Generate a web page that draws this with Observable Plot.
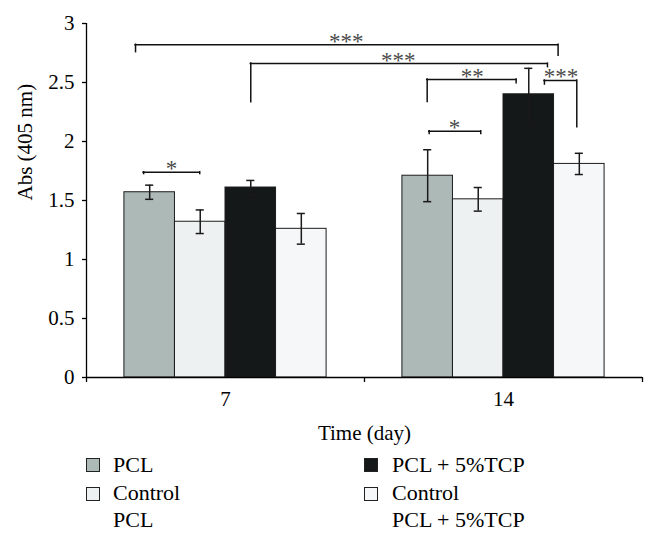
<!DOCTYPE html>
<html>
<head>
<meta charset="utf-8">
<script src="https://cdn.jsdelivr.net/npm/d3@7"></script>
<script src="https://cdn.jsdelivr.net/npm/@observablehq/plot@0.6"></script>
<style>
  html, body { margin: 0; padding: 0; background: #fff; }
  #chart { position: relative; width: 657px; height: 539px; font-family: "Liberation Serif", "Times New Roman", serif; color: #000; }
  #chart svg { position: absolute; left: 0; top: 0; }
  #legend { position: absolute; left: 0; top: 445px; width: 657px; height: 94px; }
  .sw { position: absolute; width: 12px; height: 12px; border: 1px solid #222; box-sizing: content-box; }
  .lab { position: absolute; font-size: 22px; line-height: 27px; white-space: pre-line; }
</style>
</head>
<body>
<div id="chart"><div id="legend"></div></div>
<script>
// ---- data ----
const days = ["7", "14"];
const series = ["PCL", "Control PCL", "PCL + 5%TCP", "Control PCL + 5%TCP"];
const legendLabels = ["PCL", "Control\nPCL", "PCL + 5%TCP", "Control\nPCL + 5%TCP"];
const colors = ["#adb9b6", "#eef1f2", "#151819", "#f5f7f8"];
const meansDay7 = [1.57, 1.32, 1.61, 1.26];
const errorsDay7 = [0.06, 0.10, 0.06, 0.13];
const meansDay14 = [1.71, 1.51, 2.40, 1.81];
const errorsDay14 = [0.22, 0.10, 0.22, 0.09];
const yTicks = [0, 0.5, 1, 1.5, 2, 2.5, 3];
const xTitle = "Time (day)";
const yTitle = "Abs (405 nm)";
// significance brackets (x in bar-slot units along the x axis, y in Abs units)
const bracketLabels = ["*", "***", "***", "**", "*", "***"];
const bracketX1 = [1.13, 0.97, 3.25, 6.74, 6.78, 9.06];
const bracketX2 = [2.24, 9.33, 9.12, 8.50, 7.80, 9.70];
const bracketY = [1.74, 2.82, 2.66, 2.525, 2.087, 2.517];
const bracketLeftEnd = [1.724, 2.757, 2.333, 2.335, 2.064, 2.483];
const bracketRightEnd = [1.724, 2.726, 2.63, 2.494, 2.064, 2.121];
const bracketLabelX = [1.68, 5.14, 6.17, 7.63, 7.28, 9.39];

// ---- layout helpers (bar slots) ----
const groupPad = 0.75;               // slots of padding each side of a group
const groupSlots = series.length + 2 * groupPad;
const capHalf = 0.08;
const means = [meansDay7, meansDay14];
const errors = [errorsDay7, errorsDay14];

const bars = [];
days.forEach((day, g) => {
  series.forEach((s, i) => {
    const x1 = g * groupSlots + groupPad + i;
    bars.push({day, series: s, x1, x2: x1 + 1, xc: x1 + 0.5,
      mean: means[g][i], lo: means[g][i] - errors[g][i], hi: means[g][i] + errors[g][i]});
  });
});
const brackets = bracketLabels.map((label, k) => ({
  label, x1: bracketX1[k], x2: bracketX2[k], y: bracketY[k],
  yl: bracketLeftEnd[k], yr: bracketRightEnd[k], lx: bracketLabelX[k]
}));
const boundaryTicks = d3.range(days.length + 1).map(g => g * groupSlots);
const centerTicks = days.map((d, g) => g * groupSlots + groupSlots / 2);

const svg = Plot.plot({
  width: 657,
  height: 445,
  marginLeft: 86,
  marginRight: 15,
  marginTop: 23,
  marginBottom: 68,
  style: {fontFamily: "Liberation Serif, Times New Roman, serif", fontSize: "21px", color: "#000", background: "#fff"},
  x: {domain: [0, days.length * groupSlots], label: null},
  y: {domain: [0, 3], label: null},
  color: {domain: series, range: colors},
  marks: [
    Plot.rectY(bars, {x1: "x1", x2: "x2", y1: 0, y2: "mean", fill: "series", stroke: "#1c1c1c", strokeWidth: 1}),
    Plot.ruleX(bars, {x: "xc", y1: "lo", y2: "hi", stroke: "#1a1a1a", strokeWidth: 1.5}),
    Plot.ruleY(bars, {y: "hi", x1: d => d.xc - capHalf, x2: d => d.xc + capHalf, stroke: "#1a1a1a", strokeWidth: 1.5}),
    Plot.ruleY(bars, {y: "lo", x1: d => d.xc - capHalf, x2: d => d.xc + capHalf, stroke: "#1a1a1a", strokeWidth: 1.5}),
    Plot.ruleY([0], {stroke: "#000", strokeWidth: 1.3}),
    Plot.ruleX([0], {stroke: "#000", strokeWidth: 1.3}),
    Plot.axisY({ticks: yTicks, tickSize: 4, tickPadding: 8, fontSize: 21, label: null, strokeWidth: 1.3,
      tickFormat: d => String(d)}),
    Plot.axisX({ticks: boundaryTicks, tickSize: 5, tickFormat: () => "", label: null, strokeWidth: 1.3}),
    Plot.axisX({ticks: centerTicks, tickSize: 0, tickPadding: 14, fontSize: 21, label: null,
      tickFormat: v => days[Math.round((v - groupSlots / 2) / groupSlots)]}),
    Plot.ruleY(brackets, {y: "y", x1: "x1", x2: "x2", stroke: "#111", strokeWidth: 1.5, strokeLinecap: "square"}),
    Plot.ruleX(brackets, {x: "x1", y1: "y", y2: "yl", stroke: "#111", strokeWidth: 1.5, strokeLinecap: "square"}),
    Plot.ruleX(brackets, {x: "x2", y1: "y", y2: "yr", stroke: "#111", strokeWidth: 1.5, strokeLinecap: "square"}),
    Plot.text(brackets, {x: "lx", y: "y", text: "label", lineAnchor: "bottom", dy: 4, fontSize: 23, fill: "#4a4a4a"}),
    Plot.text([xTitle], {text: d => d, frameAnchor: "bottom", lineAnchor: "bottom", dy: 62, fontSize: 21}),
    Plot.text([yTitle], {text: d => d, frameAnchor: "left", rotate: -90, dx: -61, fontSize: 21})
  ]
});
const chart = document.getElementById("chart");
chart.insertBefore(svg, chart.firstChild);

// ---- legend (below the SVG) ----
const legend = document.getElementById("legend");
const colLeft = [86, 364];
const textLeft = [113, 392];
series.forEach((s, i) => {
  const col = i < 2 ? 0 : 1;
  const row = i % 2;
  const sw = document.createElement("div");
  sw.className = "sw";
  sw.style.left = colLeft[col] + "px";
  sw.style.top = (13 + row * 29) + "px";
  sw.style.background = colors[i];
  legend.appendChild(sw);
  const lab = document.createElement("div");
  lab.className = "lab";
  lab.style.left = textLeft[col] + "px";
  lab.style.top = (6 + row * 28) + "px";
  lab.textContent = legendLabels[i];
  legend.appendChild(lab);
});
</script>
</body>
</html>
